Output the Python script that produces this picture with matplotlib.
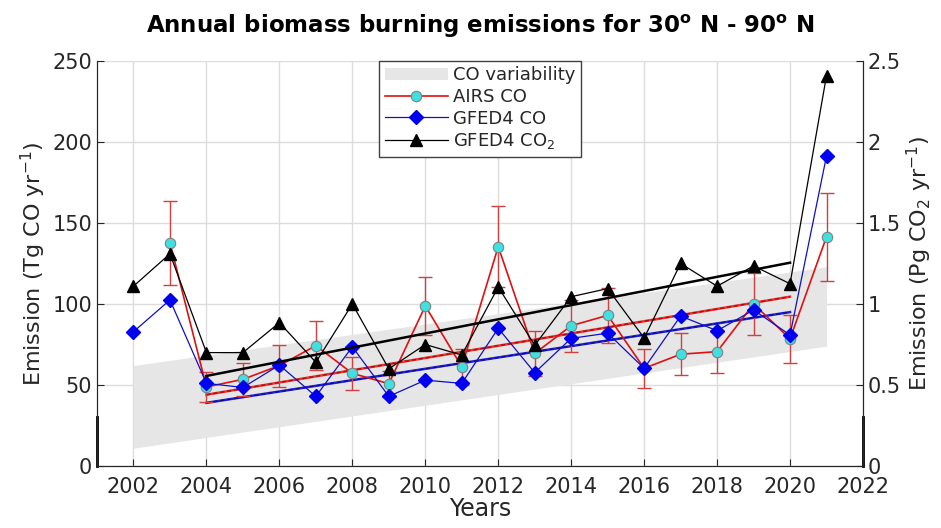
import numpy as np
import matplotlib.pyplot as plt

# data
years = np.arange(2002, 2022)
airs_years = np.arange(2003, 2022)
airs_co = [137.8, 48.8, 53.5, 62.0, 74.3, 57.2, 50.8, 98.8, 61.3, 135.4,
           69.5, 86.6, 93.0, 60.3, 69.0, 70.6, 100.0, 78.5, 141.5]
airs_err = [26, 9, 10, 13, 15, 10, 8, 18, 11, 25,
            14, 16, 17, 12, 13, 13, 19, 15, 27]
gfed_co = [82.9, 102.5, 51.0, 48.5, 62.3, 43.0, 73.6, 43.0, 53.0, 51.0,
           85.0, 57.6, 78.8, 82.0, 60.3, 92.6, 83.5, 96.3, 80.9, 191.4]
gfed_co2 = [1.11, 1.31, 0.70, 0.70, 0.885, 0.64, 1.00, 0.60, 0.75, 0.685,
            1.105, 0.745, 1.045, 1.095, 0.79, 1.25, 1.11, 1.235, 1.125, 2.41]

# CO variability band (linear envelope 2002-2021)
band_years = [2002, 2021]
band_low = [11, 74]
band_high = [62, 123]

# trend lines 2004-2020
trend_years = [2004, 2020]
trend_airs = [44, 104.5]
trend_gfed_co = [39, 95]
trend_gfed_co2 = [0.556, 1.255]

txt = '#262626'
plt.rcParams['font.family'] = 'DejaVu Sans'
plt.rcParams['text.color'] = txt
plt.rcParams['axes.labelcolor'] = txt
plt.rcParams['xtick.color'] = txt
plt.rcParams['ytick.color'] = txt

fig = plt.figure(figsize=(9.41, 5.28), dpi=100)
ax = fig.add_axes([0.1031, 0.1174, 0.8140, 0.7671])
ax2 = ax.twinx()

band = ax.fill_between(band_years, band_low, band_high, color='#e6e6e6',
                       linewidth=0, label='CO variability', zorder=1)

# trend lines: solid with darker dashes on top
ax.plot(trend_years, trend_airs, color='#f03030', lw=1.8, zorder=2)
ax.plot(trend_years, trend_airs, color='#a01010', lw=1.0, ls=(0, (3, 2)), zorder=2)
ax.plot(trend_years, trend_gfed_co, color='#2020e0', lw=1.8, zorder=2)
ax.plot(trend_years, trend_gfed_co, color='#101070', lw=1.0, ls=(0, (3, 2)), zorder=2)
ax2.plot(trend_years, trend_gfed_co2, color='black', lw=1.8, zorder=2)

ax.errorbar(airs_years, airs_co, yerr=airs_err, fmt='none', ecolor='#d04040',
            elinewidth=1, capsize=5, capthick=1, zorder=3)
l_airs, = ax.plot(airs_years, airs_co, color='#e01010', lw=1.2, marker='o',
                  ms=7.5, mfc='#40e0e0', mec='#808080', mew=0.8, zorder=4,
                  label='AIRS CO')
l_gfed, = ax.plot(years, gfed_co, color='#1010c0', lw=0.9, marker='D',
                  ms=7, mfc='#0000ee', mec='#0000ee', zorder=5,
                  label='GFED4 CO')
l_co2, = ax2.plot(years, gfed_co2, color='black', lw=0.9, marker='^',
                  ms=8.5, mfc='black', mec='black', zorder=5,
                  label='GFED4 CO$_2$')

ax.set_xlim(2001, 2022)
ax.set_ylim(0, 250)
ax2.set_ylim(0, 2.5)
ax.set_xticks(np.arange(2002, 2023, 2))
ax.set_yticks(np.arange(0, 251, 50))
ax2.set_yticks([0, 0.5, 1, 1.5, 2, 2.5])
ax2.set_yticklabels(['0', '0.5', '1', '1.5', '2', '2.5'])

ax.grid(True, color='#dcdcdc', lw=1)
ax.set_axisbelow(True)
for a in (ax, ax2):
    a.tick_params(direction='in', labelsize=15, length=5, width=0.8)
    a.spines['top'].set_visible(False)
    for s in a.spines.values():
        s.set_color(txt)
ax.tick_params(axis='x', pad=8)

# thicker stub at the foot of both y axes, as in the original
ax.plot([2001, 2001], [0, 30], color='black', lw=2, clip_on=False, zorder=6)
ax.plot([2022, 2022], [0, 30], color='black', lw=2, clip_on=False, zorder=6)

ax.set_xlabel('Years', fontsize=17, labelpad=0)
ax.set_ylabel('Emission (Tg CO yr$^{-1}$)', fontsize=16, labelpad=3)
ax2.set_ylabel('Emission (Pg CO$_2$ yr$^{-1}$)', fontsize=16, labelpad=3)
ax.set_title('Annual biomass burning emissions for 30$^{\\mathbf{o}}$ N - 90$^{\\mathbf{o}}$ N',
             fontsize=16.5, fontweight='bold', color='black', pad=20)

leg = ax2.legend([band, l_airs, l_gfed, l_co2],
                 ['CO variability', 'AIRS CO', 'GFED4 CO', 'GFED4 CO$_2$'],
                 loc='upper center', borderaxespad=0, fontsize=13,
                 fancybox=False, edgecolor='#404040', framealpha=1,
                 handlelength=3.5, handletextpad=0.3, labelspacing=0.2,
                 borderpad=0.3)
leg.get_frame().set_linewidth(1)

fig.savefig('out.png', dpi=100)
